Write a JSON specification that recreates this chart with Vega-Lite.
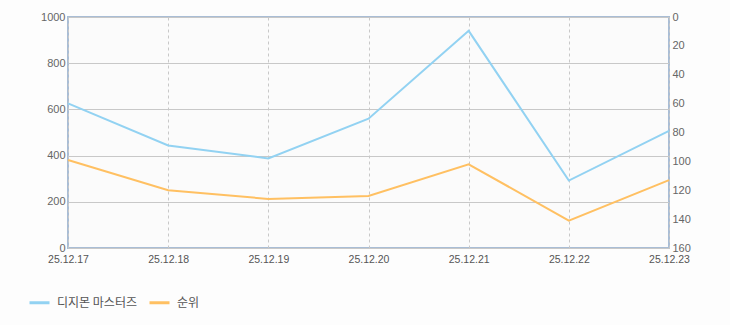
{
  "$schema": "https://vega.github.io/schema/vega-lite/v6.json",
  "autosize": "none",
  "width": 601,
  "height": 231,
  "padding": {"left": 68, "top": 17, "right": 61, "bottom": 77},
  "background": "#fdfdfd",
  "config": {
    "view": {"stroke": "#a9bdd5", "strokeWidth": 2, "fill": "#fbfbfb"},
    "font": "Noto Sans CJK KR",
    "axis": {"labelColor": "#666666", "labelFontSize": 11, "labelFont": "Liberation Sans", "ticks": false, "domain": false, "title": null}
  },
  "data": {
    "values": [
      {"date": "25.12.17", "players": 626, "rank": 99},
      {"date": "25.12.18", "players": 444, "rank": 120},
      {"date": "25.12.19", "players": 388, "rank": 126},
      {"date": "25.12.20", "players": 560, "rank": 124},
      {"date": "25.12.21", "players": 940, "rank": 102},
      {"date": "25.12.22", "players": 292, "rank": 141},
      {"date": "25.12.23", "players": 507, "rank": 113}
    ]
  },
  "encoding": {
    "x": {
      "field": "date", "type": "ordinal",
      "scale": {"type": "point", "padding": 0},
      "axis": {"labelAngle": 0, "labelPadding": 6, "grid": true, "gridColor": "#c8c8c8", "gridDash": [3, 3], "gridWidth": 1, "labelFontSize": 10.5, "labelColor": "#555555"}
    }
  },
  "layer": [
    {
      "mark": {"type": "line", "strokeWidth": 2, "interpolate": "linear"},
      "encoding": {
        "y": {
          "field": "players", "type": "quantitative",
          "scale": {"domain": [0, 1000]},
          "axis": {"values": [0, 200, 400, 600, 800, 1000], "format": "d", "grid": true, "gridColor": "#c8c8c8", "gridWidth": 1, "labelPadding": 3}
        },
        "color": {
          "datum": "디지몬 마스터즈",
          "scale": {"domain": ["디지몬 마스터즈", "순위"], "range": ["#92d2f2", "#ffc062"]},
          "legend": {
            "title": null, "orient": "none", "legendX": -40, "legendY": 274, "direction": "horizontal",
            "symbolType": "stroke", "symbolStrokeWidth": 3, "symbolSize": 400,
            "labelFontSize": 12, "labelColor": "#555555", "columnPadding": 6, "labelOffset": 6
          }
        }
      }
    },
    {
      "mark": {"type": "line", "strokeWidth": 2, "interpolate": "linear"},
      "encoding": {
        "y": {
          "field": "rank", "type": "quantitative",
          "scale": {"domain": [0, 160], "reverse": true},
          "axis": {"orient": "right", "values": [0, 20, 40, 60, 80, 100, 120, 140, 160], "grid": false, "labelPadding": 3}
        },
        "color": {"datum": "순위"}
      }
    }
  ],
  "resolve": {"scale": {"y": "independent"}}
}
